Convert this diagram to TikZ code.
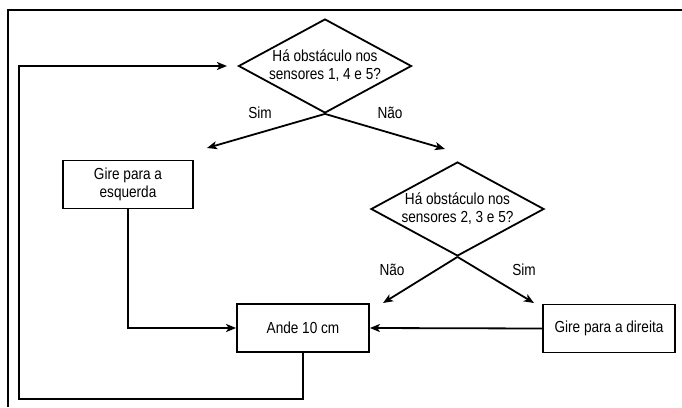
\documentclass[tikz,border=0pt]{standalone}
\usepackage{fontspec}
\setmainfont{Liberation Sans}[FakeStretch=0.85]
\usetikzlibrary{shapes.geometric,arrows.meta}

\tikzset{
    caixa/.style={draw, line width=1.8pt, minimum width=132pt, minimum height=48pt, align=center, inner sep=0pt},
    decisao/.style={draw, diamond, line width=1.8pt, shape aspect=1.9, minimum width=173pt, minimum height=94pt, align=center, inner sep=0pt},
    seta/.style={line width=1.8pt, -{Stealth[length=10pt,width=8pt,inset=2.5pt]}}
}

\begin{document}
\begin{tikzpicture}[x=1pt, y=-1pt, font=\fontsize{16}{18}\selectfont]
        \useasboundingbox (0,0) rectangle (682,407);
        % Moldura
        \draw[line width=1.8pt] (682,10) -- (8,10) -- (8,407);

        % Decisões
        \node[decisao] (q1) at (325,66) {Há obstáculo nos\\sensores 1, 4 e 5?};
        \node[decisao] (q2) at (457.5,209) {Há obstáculo nos\\sensores 2, 3 e 5?};

        % Ações
        \node[caixa, minimum width=130pt] (esq) at (128,184.5) {Gire para a\\esquerda};
        \node[caixa] (ande) at (303,328) {Ande 10 cm};
        \node[caixa] (dir) at (609,328.5) {Gire para a direita};

        % Pontas livres
        \coordinate (q1sim) at (207,148);
        \coordinate (q1nao) at (445,149);
        \coordinate (q2nao) at (383,303);
        \coordinate (q2sim) at (534,303);
        \coordinate (volta) at (227,66);

        % Ramos
        \draw[seta] (q1.south) -- (q1sim);
        \draw[seta] (q1.south) -- (q1nao);
        \node (sim1) at (260,113) {Sim};
        \node (nao1) at (390,113) {Não};
        \draw[seta] (q2.south) -- (q2nao);
        \draw[seta] (q2.south) -- (q2sim);
        \node (nao2) at (392,270) {Não};
        \node (sim2) at (524,270) {Sim};

        % Ligações
        \draw[seta] (esq.south) |- (ande.west);
        \draw[seta] (dir.west) -- (ande.east);
        \draw[seta] (ande.south) -- (303,399) -- (19,399) -- (19,66) -- (volta);
    \end{tikzpicture}
\end{document}
